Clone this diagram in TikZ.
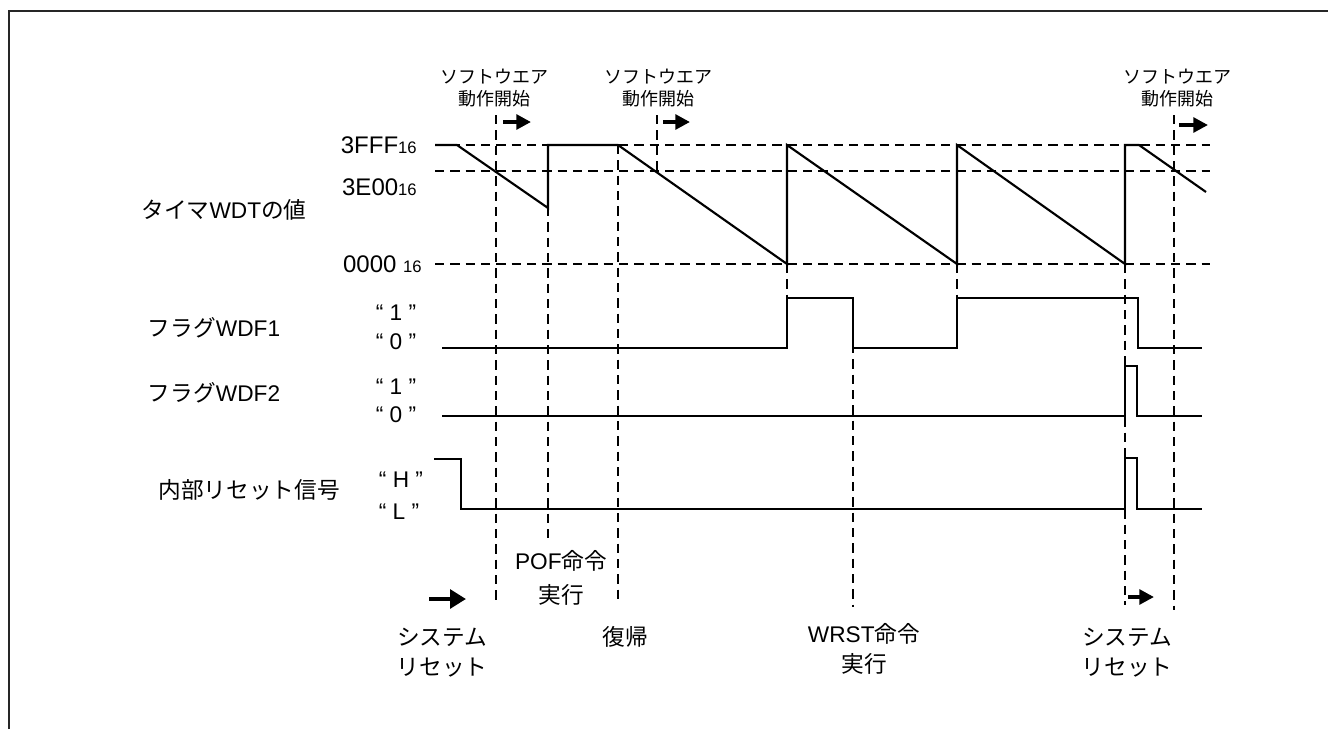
\documentclass[tikz,border=0pt]{standalone}
\usepackage{fontspec}
\setmainfont{Liberation Sans}
\newfontfamily\jpfont{Noto Sans CJK JP}
\newcommand{\jp}[1]{{\jpfont #1}}
\newcommand{\hexsub}[1]{{\fontsize{12.5}{12.5}\selectfont #1}}
\usetikzlibrary{arrows.meta}
\begin{document}
\begin{tikzpicture}[x=0.75pt,y=-0.75pt,
	wave/.style={line width=1.6pt},
	guide/.style={line width=1pt,dash pattern=on 7pt off 4.5pt},
	go/.style={line width=3pt,-{Triangle[length=11pt,width=11pt]}},
	big/.style={font=\fontsize{17}{23}\selectfont,inner sep=0pt,align=center},
	small/.style={font=\fontsize{13.5}{16}\selectfont,inner sep=0pt,align=center}]
	\useasboundingbox (0,0) rectangle (1328,729);
	\draw[line width=1.6pt,black!85] (9,729) -- (9,11) -- (1328,11);
	\draw[guide] (435,145) -- (1210,145);
	\draw[guide] (435,171) -- (1210,171);
	\draw[guide] (435,264) -- (1210,264);
	\draw[guide] (496,115) -- (496,605);
	\draw[guide] (548,207) -- (548,540);
	\draw[guide] (618,145) -- (618,602);
	\draw[guide] (657,115) -- (657,171);
	\draw[guide] (787,264) -- (787,298);
	\draw[guide] (853,298) -- (853,607);
	\draw[guide] (957,264) -- (957,298);
	\draw[guide] (1125,264) -- (1125,605);
	\draw[guide] (1174,115) -- (1174,610);
	\draw[wave] (435,145) -- (457,145) -- (548,208) -- (548,145) -- (618,145) -- (787,264) -- (787,145) -- (957,264) -- (957,145) -- (1125,264) -- (1125,145) -- (1139,145) -- (1206,192);
	\draw[wave] (442,348) -- (787,348) -- (787,298) -- (853,298) -- (853,348) -- (957,348) -- (957,298) -- (1138,298) -- (1138,348) -- (1202,348);
	\draw[wave] (442,416) -- (1125,416) -- (1125,366) -- (1137,366) -- (1137,416) -- (1202,416);
	\draw[wave] (434,459) -- (461,459) -- (461,509) -- (1125,509) -- (1125,458) -- (1137,458) -- (1137,509) -- (1202,509);
	\draw[go] (503,122) -- (531,122);
	\draw[go] (663,122) -- (690,122);
	\draw[go] (1179,125) -- (1208,125);
	\draw[go,-{Triangle[length=12pt,width=14pt]}] (429,599) -- (466,599);
	\draw[go] (1128,597) -- (1154,597);
	\node[big] (timer) at (224,210) {\jp{タイマ}WDT\jp{の値}};
	\node[big] (flag1) at (214,328) {\jp{フラグ}WDF1};
	\node[big] (flag2) at (214,393) {\jp{フラグ}WDF2};
	\node[big] (irst) at (249,490) {\jp{内部リセット信号}};
	\node[big,anchor=east,font=\fontsize{18}{23}\selectfont] (vtop) at (417,145) {3FFF\hexsub{16}};
	\node[big,anchor=east,font=\fontsize{18}{23}\selectfont] (vmid) at (417,187) {3E00\hexsub{16}};
	\node[big,anchor=east,font=\fontsize{18}{23}\selectfont] (vzero) at (422,264) {0000 \hexsub{16}};
	\node[big] (one1) at (396,313) {“ 1 ”};
	\node[big] (zero1) at (396,342) {“ 0 ”};
	\node[big] (one2) at (396,387) {“ 1 ”};
	\node[big] (zero2) at (396,415) {“ 0 ”};
	\node[big] (high) at (401,480) {“ H ”};
	\node[big] (low) at (399,512) {“ L ”};
	\node[small] (sw1) at (494,88) {\jp{ソフトウエア}\\\jp{動作開始}};
	\node[small] (sw2) at (658,88) {\jp{ソフトウエア}\\\jp{動作開始}};
	\node[small] (sw3) at (1177,88) {\jp{ソフトウエア}\\\jp{動作開始}};
	\node[big,font=\fontsize{17}{26}\selectfont] (pof) at (561,578) {POF\jp{命令}\\\jp{実行}};
	\node[big,font=\fontsize{17}{22.5}\selectfont] (sysrst1) at (442,653) {\jp{システム}\\\jp{リセット}};
	\node[big] (back) at (625,637) {\jp{復帰}};
	\node[big] (wrst) at (864,649) {WRST\jp{命令}\\\jp{実行}};
	\node[big,font=\fontsize{17}{22.5}\selectfont] (sysrst2) at (1127,653) {\jp{システム}\\\jp{リセット}};
\end{tikzpicture}
\end{document}
